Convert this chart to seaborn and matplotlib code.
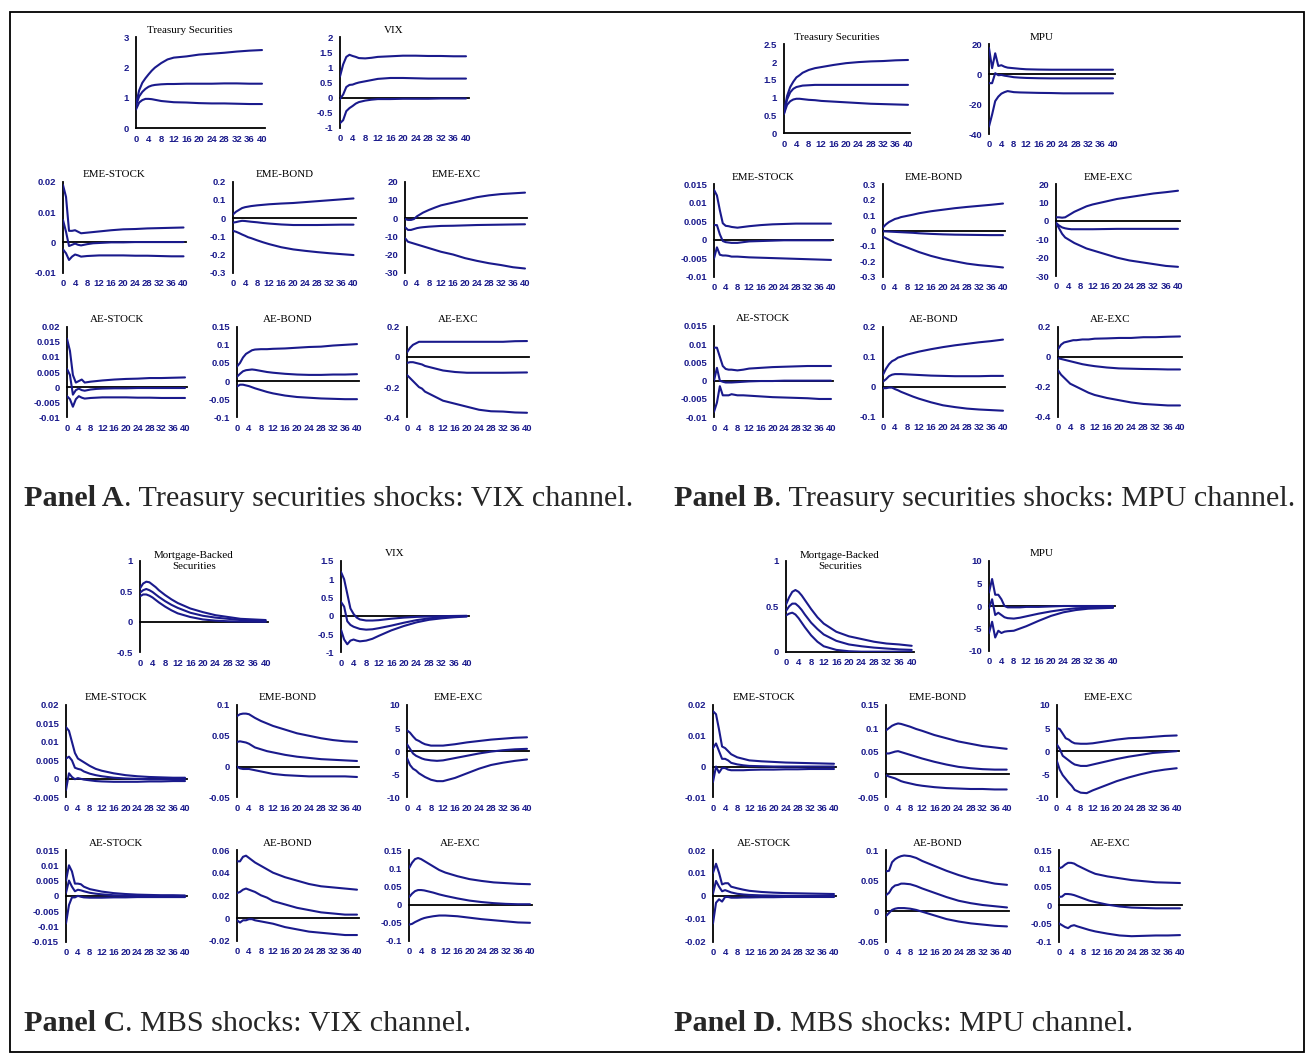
import matplotlib
matplotlib.use("Agg")
import matplotlib.pyplot as plt
import seaborn as sns
from matplotlib.patches import Rectangle

# ---------------------------------------------------------------------------
# Impulse-response data: upper band (HI), median (MED), lower band (LO)
# ---------------------------------------------------------------------------
HORIZON = [0, 1, 2, 3, 4, 5, 6, 8, 10, 12, 16, 20, 24, 28, 32, 36, 40]
XTICKS = [0, 4, 8, 12, 16, 20, 24, 28, 32, 36, 40]

# Panel A: Treasury securities shocks, VIX channel
A_TS_HI = [0.80, 1.25, 1.50, 1.65, 1.78, 1.90, 2.00, 2.15, 2.27, 2.33, 2.37, 2.43, 2.46, 2.49, 2.53, 2.56, 2.58]
A_TS_MED = [0.75, 1.05, 1.20, 1.30, 1.37, 1.41, 1.43, 1.45, 1.46, 1.46, 1.47, 1.47, 1.47, 1.48, 1.48, 1.47, 1.47]
A_TS_LO = [0.62, 0.85, 0.93, 0.97, 0.97, 0.96, 0.94, 0.90, 0.88, 0.86, 0.85, 0.83, 0.82, 0.82, 0.81, 0.80, 0.80]

A_VIX_HI = [0.70, 1.10, 1.35, 1.42, 1.38, 1.35, 1.31, 1.30, 1.32, 1.35, 1.37, 1.39, 1.39, 1.38, 1.38, 1.37, 1.37]
A_VIX_MED = [-0.05, 0.10, 0.35, 0.42, 0.43, 0.47, 0.50, 0.54, 0.58, 0.62, 0.65, 0.65, 0.64, 0.63, 0.63, 0.63, 0.63]
A_VIX_LO = [-0.85, -0.75, -0.45, -0.35, -0.28, -0.20, -0.15, -0.10, -0.07, -0.05, -0.05, -0.04, -0.04, -0.04, -0.03, -0.03, -0.03]

A_EME_STOCK_HI = [0.0189, 0.0150, 0.0038, 0.0038, 0.0040, 0.0035, 0.0030, 0.0032, 0.0034, 0.0036, 0.0040, 0.0043, 0.0044, 0.0046, 0.0047, 0.0048, 0.0049]
A_EME_STOCK_MED = [0.0074, 0.0035, -0.0012, -0.0008, -0.0004, -0.0008, -0.0010, -0.0006, -0.0003, -0.0002, 0.0000, 0.0000, 0.0001, 0.0001, 0.0001, 0.0001, 0.0001]
A_EME_STOCK_LO = [-0.0023, -0.0036, -0.0058, -0.0047, -0.0040, -0.0043, -0.0047, -0.0045, -0.0044, -0.0043, -0.0043, -0.0043, -0.0044, -0.0044, -0.0045, -0.0046, -0.0046]

A_EME_BOND_HI = [0.020, 0.035, 0.045, 0.055, 0.060, 0.063, 0.066, 0.070, 0.073, 0.076, 0.080, 0.083, 0.088, 0.093, 0.098, 0.103, 0.108]
A_EME_BOND_MED = [-0.025, -0.022, -0.018, -0.015, -0.016, -0.018, -0.020, -0.023, -0.027, -0.030, -0.035, -0.038, -0.038, -0.038, -0.037, -0.036, -0.036]
A_EME_BOND_LO = [-0.070, -0.075, -0.082, -0.090, -0.097, -0.105, -0.110, -0.122, -0.133, -0.143, -0.160, -0.172, -0.180, -0.187, -0.193, -0.198, -0.203]

A_EME_EXC_HI = [-0.5, -1.0, -1.0, -0.5, 1.0, 2.0, 3.0, 4.5, 5.8, 7.0, 8.5, 10.0, 11.5, 12.5, 13.2, 13.6, 14.0]
A_EME_EXC_MED = [-5.0, -6.5, -6.5, -6.0, -5.5, -5.2, -5.0, -4.7, -4.5, -4.3, -4.2, -4.0, -3.8, -3.7, -3.6, -3.5, -3.4]
A_EME_EXC_LO = [-11.0, -13.0, -13.5, -14.0, -14.5, -15.0, -15.5, -16.5, -17.5, -18.5, -20.0, -22.0, -23.5, -24.8, -25.8, -27.0, -27.7]

A_AE_STOCK_HI = [0.0160, 0.0120, 0.0040, 0.0015, 0.0020, 0.0025, 0.0015, 0.0018, 0.0020, 0.0022, 0.0025, 0.0027, 0.0028, 0.0030, 0.0030, 0.0031, 0.0032]
A_AE_STOCK_MED = [0.0060, 0.0040, -0.0025, -0.0010, -0.0005, -0.0010, -0.0012, -0.0008, -0.0006, -0.0005, -0.0004, -0.0004, -0.0003, -0.0003, -0.0003, -0.0003, -0.0003]
A_AE_STOCK_LO = [-0.0030, -0.0040, -0.0065, -0.0040, -0.0030, -0.0035, -0.0038, -0.0036, -0.0035, -0.0034, -0.0034, -0.0034, -0.0035, -0.0035, -0.0036, -0.0036, -0.0036]

A_AE_BOND_HI = [0.040, 0.050, 0.065, 0.075, 0.080, 0.085, 0.087, 0.088, 0.088, 0.089, 0.090, 0.092, 0.094, 0.095, 0.098, 0.100, 0.102]
A_AE_BOND_MED = [0.012, 0.020, 0.027, 0.030, 0.031, 0.032, 0.031, 0.028, 0.025, 0.023, 0.020, 0.018, 0.017, 0.017, 0.018, 0.018, 0.019]
A_AE_BOND_LO = [-0.015, -0.010, -0.010, -0.012, -0.014, -0.017, -0.020, -0.025, -0.030, -0.034, -0.040, -0.044, -0.046, -0.048, -0.049, -0.050, -0.050]

A_AE_EXC_HI = [0.03, 0.06, 0.08, 0.09, 0.10, 0.10, 0.10, 0.10, 0.10, 0.10, 0.10, 0.10, 0.10, 0.10, 0.10, 0.104, 0.105]
A_AE_EXC_MED = [-0.040, -0.035, -0.035, -0.040, -0.045, -0.050, -0.060, -0.070, -0.080, -0.090, -0.100, -0.105, -0.105, -0.105, -0.105, -0.104, -0.103]
A_AE_EXC_LO = [-0.12, -0.14, -0.16, -0.18, -0.20, -0.21, -0.23, -0.25, -0.27, -0.29, -0.31, -0.33, -0.35, -0.36, -0.362, -0.368, -0.37]

# Panel B: Treasury securities shocks, MPU channel
B_TS_HI = [0.60, 1.05, 1.30, 1.45, 1.57, 1.63, 1.70, 1.78, 1.83, 1.86, 1.92, 1.97, 2.00, 2.02, 2.03, 2.05, 2.06]
B_TS_MED = [0.55, 0.95, 1.15, 1.25, 1.30, 1.32, 1.34, 1.35, 1.36, 1.36, 1.36, 1.36, 1.36, 1.36, 1.36, 1.36, 1.36]
B_TS_LO = [0.55, 0.80, 0.90, 0.95, 0.97, 0.97, 0.96, 0.94, 0.93, 0.91, 0.89, 0.87, 0.85, 0.83, 0.82, 0.81, 0.80]

B_MPU_HI = [17.5, 4.0, 14.0, 5.5, 6.0, 5.0, 4.4, 4.0, 3.6, 3.3, 3.1, 3.0, 3.0, 3.0, 3.0, 3.0, 3.0]
B_MPU_MED = [-6.0, -6.0, 0.7, -0.7, -0.5, -1.0, -1.3, -2.0, -2.3, -2.5, -2.7, -2.8, -2.8, -2.8, -2.8, -2.8, -2.8]
B_MPU_LO = [-35.0, -27.0, -18.0, -15.0, -13.0, -12.0, -11.3, -12.0, -12.2, -12.3, -12.5, -12.6, -12.8, -12.8, -12.8, -12.8, -12.8]

B_EME_STOCK_HI = [0.0135, 0.0120, 0.0080, 0.0045, 0.0038, 0.0037, 0.0035, 0.0033, 0.0035, 0.0037, 0.0040, 0.0042, 0.0043, 0.0044, 0.0044, 0.0044, 0.0044]
B_EME_STOCK_MED = [0.0040, 0.0040, 0.0015, -0.0003, -0.0006, -0.0007, -0.0008, -0.0008, -0.0006, -0.0004, -0.0003, -0.0002, -0.0001, -0.0001, -0.0001, -0.0001, -0.0001]
B_EME_STOCK_LO = [-0.0050, -0.0020, -0.0040, -0.0042, -0.0042, -0.0043, -0.0045, -0.0045, -0.0046, -0.0047, -0.0048, -0.0049, -0.0050, -0.0051, -0.0052, -0.0053, -0.0054]

B_EME_BOND_HI = [0.020, 0.040, 0.055, 0.065, 0.075, 0.080, 0.087, 0.095, 0.103, 0.112, 0.125, 0.135, 0.145, 0.153, 0.160, 0.167, 0.175]
B_EME_BOND_MED = [-0.005, -0.006, -0.007, -0.008, -0.009, -0.010, -0.011, -0.013, -0.015, -0.018, -0.022, -0.025, -0.027, -0.028, -0.029, -0.030, -0.030]
B_EME_BOND_LO = [-0.040, -0.050, -0.060, -0.070, -0.080, -0.088, -0.095, -0.110, -0.125, -0.140, -0.165, -0.185, -0.200, -0.215, -0.225, -0.232, -0.240]

B_EME_EXC_HI = [2.0, 2.0, 1.8, 2.0, 3.0, 4.0, 5.0, 6.5, 8.0, 9.0, 10.5, 12.0, 13.0, 14.0, 15.0, 15.7, 16.5]
B_EME_EXC_MED = [-1.0, -2.5, -3.5, -4.0, -4.3, -4.5, -4.5, -4.5, -4.5, -4.5, -4.4, -4.3, -4.3, -4.3, -4.3, -4.3, -4.3]
B_EME_EXC_LO = [-1.0, -4.0, -7.0, -9.0, -10.0, -11.0, -12.0, -13.5, -15.0, -16.0, -18.0, -20.0, -21.5, -22.5, -23.5, -24.5, -25.0]

B_AE_STOCK_HI = [0.0090, 0.0090, 0.0065, 0.0040, 0.0032, 0.0030, 0.0030, 0.0028, 0.0030, 0.0033, 0.0035, 0.0037, 0.0038, 0.0039, 0.0040, 0.0040, 0.0040]
B_AE_STOCK_MED = [0.0000, 0.0035, 0.0000, -0.0003, -0.0005, -0.0005, -0.0005, -0.0004, -0.0003, -0.0002, -0.0001, -0.0001, 0.0000, 0.0000, 0.0000, 0.0000, 0.0000]
B_AE_STOCK_LO = [-0.0085, -0.0060, -0.0015, -0.0040, -0.0040, -0.0040, -0.0037, -0.0040, -0.0040, -0.0041, -0.0043, -0.0045, -0.0046, -0.0047, -0.0048, -0.0050, -0.0050]

B_AE_BOND_HI = [0.040, 0.060, 0.075, 0.085, 0.090, 0.097, 0.100, 0.107, 0.112, 0.117, 0.125, 0.132, 0.138, 0.143, 0.148, 0.152, 0.157]
B_AE_BOND_MED = [0.017, 0.025, 0.035, 0.040, 0.042, 0.042, 0.042, 0.041, 0.040, 0.039, 0.037, 0.036, 0.035, 0.035, 0.035, 0.036, 0.036]
B_AE_BOND_LO = [-0.005, -0.005, -0.003, -0.003, -0.008, -0.012, -0.017, -0.025, -0.033, -0.040, -0.052, -0.062, -0.068, -0.073, -0.076, -0.078, -0.080]

B_AE_EXC_HI = [0.050, 0.080, 0.095, 0.100, 0.105, 0.110, 0.110, 0.115, 0.115, 0.120, 0.122, 0.125, 0.125, 0.130, 0.130, 0.133, 0.135]
B_AE_EXC_MED = [-0.010, -0.015, -0.020, -0.025, -0.030, -0.035, -0.040, -0.050, -0.057, -0.063, -0.072, -0.078, -0.080, -0.082, -0.083, -0.085, -0.085]
B_AE_EXC_LO = [-0.090, -0.120, -0.140, -0.160, -0.180, -0.190, -0.200, -0.220, -0.240, -0.255, -0.275, -0.290, -0.305, -0.315, -0.320, -0.325, -0.325]

# Panel C: MBS shocks, VIX channel
C_MBS_HI = [0.55, 0.63, 0.66, 0.65, 0.61, 0.57, 0.52, 0.44, 0.37, 0.31, 0.22, 0.16, 0.11, 0.08, 0.05, 0.04, 0.03]
C_MBS_MED = [0.48, 0.52, 0.54, 0.52, 0.49, 0.45, 0.41, 0.34, 0.28, 0.23, 0.15, 0.10, 0.07, 0.05, 0.03, 0.02, 0.015]
C_MBS_LO = [0.42, 0.45, 0.45, 0.43, 0.40, 0.36, 0.32, 0.25, 0.19, 0.14, 0.08, 0.04, 0.02, 0.01, 0.005, 0.002, 0.0]

C_VIX_HI = [1.20, 1.00, 0.60, 0.20, 0.05, -0.05, -0.10, -0.13, -0.13, -0.12, -0.08, -0.05, -0.03, -0.02, -0.01, -0.005, 0.0]
C_VIX_MED = [0.38, 0.25, -0.15, -0.25, -0.30, -0.33, -0.36, -0.38, -0.37, -0.34, -0.27, -0.19, -0.12, -0.07, -0.04, -0.02, -0.01]
C_VIX_LO = [-0.38, -0.65, -0.78, -0.68, -0.65, -0.68, -0.70, -0.68, -0.63, -0.55, -0.40, -0.28, -0.18, -0.11, -0.07, -0.04, -0.02]

C_EME_STOCK_HI = [0.0140, 0.0130, 0.0100, 0.0070, 0.0055, 0.0050, 0.0045, 0.0035, 0.0027, 0.0022, 0.0015, 0.0010, 0.0007, 0.0005, 0.0004, 0.0003, 0.0003]
C_EME_STOCK_MED = [0.0055, 0.0060, 0.0050, 0.0030, 0.0027, 0.0025, 0.0020, 0.0014, 0.0010, 0.0007, 0.0003, 0.0001, 0.0000, -0.0001, -0.0001, -0.0001, -0.0001]
C_EME_STOCK_LO = [-0.0030, 0.0015, 0.0005, -0.0001, 0.0002, 0.0000, -0.0002, -0.0004, -0.0006, -0.0007, -0.0008, -0.0008, -0.0008, -0.0007, -0.0007, -0.0006, -0.0006]

C_EME_BOND_HI = [0.082, 0.085, 0.086, 0.086, 0.085, 0.082, 0.079, 0.074, 0.070, 0.066, 0.060, 0.054, 0.050, 0.046, 0.043, 0.041, 0.040]
C_EME_BOND_MED = [0.040, 0.041, 0.040, 0.039, 0.037, 0.034, 0.031, 0.028, 0.025, 0.023, 0.019, 0.016, 0.014, 0.012, 0.011, 0.010, 0.009]
C_EME_BOND_LO = [0.000, -0.003, -0.004, -0.004, -0.004, -0.005, -0.006, -0.008, -0.010, -0.012, -0.014, -0.015, -0.016, -0.016, -0.016, -0.016, -0.017]

C_EME_EXC_HI = [4.5, 4.0, 3.2, 2.5, 2.2, 1.8, 1.5, 1.2, 1.2, 1.2, 1.5, 1.9, 2.2, 2.5, 2.7, 2.9, 3.0]
C_EME_EXC_MED = [1.5, 0.5, -0.5, -1.0, -1.3, -1.6, -1.8, -2.0, -2.1, -2.0, -1.5, -1.0, -0.5, -0.1, 0.2, 0.4, 0.5]
C_EME_EXC_LO = [-1.5, -3.0, -3.8, -4.2, -4.8, -5.2, -5.6, -6.2, -6.5, -6.5, -5.8, -4.8, -3.8, -3.0, -2.5, -2.1, -1.8]

C_AE_STOCK_HI = [0.0050, 0.0100, 0.0080, 0.0040, 0.0040, 0.0038, 0.0030, 0.0022, 0.0018, 0.0014, 0.0009, 0.0006, 0.0004, 0.0003, 0.0002, 0.0002, 0.0001]
C_AE_STOCK_MED = [0.0010, 0.0050, 0.0030, 0.0015, 0.0020, 0.0018, 0.0015, 0.0010, 0.0007, 0.0005, 0.0002, 0.0001, 0.0000, 0.0000, 0.0000, 0.0000, 0.0000]
C_AE_STOCK_LO = [-0.0090, -0.0030, -0.0005, -0.0005, 0.0000, -0.0003, -0.0005, -0.0006, -0.0006, -0.0006, -0.0005, -0.0005, -0.0004, -0.0004, -0.0004, -0.0004, -0.0004]

C_AE_BOND_HI = [0.050, 0.050, 0.054, 0.055, 0.053, 0.051, 0.049, 0.046, 0.043, 0.040, 0.036, 0.033, 0.030, 0.028, 0.027, 0.026, 0.025]
C_AE_BOND_MED = [0.022, 0.023, 0.025, 0.026, 0.025, 0.024, 0.023, 0.020, 0.018, 0.015, 0.012, 0.009, 0.007, 0.005, 0.004, 0.003, 0.003]
C_AE_BOND_LO = [-0.002, -0.004, -0.002, -0.002, -0.001, -0.001, -0.002, -0.003, -0.004, -0.005, -0.008, -0.010, -0.012, -0.013, -0.014, -0.015, -0.015]

C_AE_EXC_HI = [0.100, 0.115, 0.125, 0.128, 0.125, 0.120, 0.115, 0.105, 0.095, 0.088, 0.078, 0.070, 0.065, 0.061, 0.059, 0.057, 0.056]
C_AE_EXC_MED = [0.020, 0.030, 0.037, 0.040, 0.040, 0.039, 0.037, 0.033, 0.028, 0.024, 0.017, 0.011, 0.007, 0.004, 0.002, 0.001, 0.001]
C_AE_EXC_LO = [-0.055, -0.053, -0.048, -0.044, -0.040, -0.037, -0.035, -0.032, -0.030, -0.030, -0.032, -0.036, -0.040, -0.043, -0.046, -0.049, -0.050]

# Panel D: MBS shocks, MPU channel
D_MBS_HI = [0.52, 0.60, 0.66, 0.68, 0.66, 0.62, 0.57, 0.47, 0.38, 0.31, 0.22, 0.17, 0.14, 0.11, 0.09, 0.08, 0.065]
D_MBS_MED = [0.45, 0.50, 0.53, 0.53, 0.50, 0.46, 0.41, 0.32, 0.25, 0.19, 0.12, 0.08, 0.06, 0.045, 0.035, 0.025, 0.02]
D_MBS_LO = [0.40, 0.42, 0.43, 0.41, 0.37, 0.32, 0.27, 0.18, 0.11, 0.06, 0.02, 0.005, 0.0, 0.0, 0.0, 0.0, 0.0]

D_MPU_HI = [3.0, 6.0, 2.5, 2.5, 1.5, 0.0, -0.3, -0.3, -0.3, -0.2, -0.2, -0.1, 0.0, 0.0, 0.0, 0.0, 0.0]
D_MPU_MED = [-0.5, 1.5, -2.0, -1.5, -2.0, -2.5, -2.7, -2.8, -2.6, -2.3, -1.7, -1.2, -0.8, -0.5, -0.4, -0.3, -0.3]
D_MPU_LO = [-6.0, -3.5, -7.0, -5.5, -6.0, -5.7, -5.6, -5.5, -5.0, -4.5, -3.3, -2.2, -1.4, -0.9, -0.6, -0.5, -0.4]

D_EME_STOCK_HI = [0.0180, 0.0170, 0.0120, 0.0065, 0.0060, 0.0050, 0.0040, 0.0030, 0.0025, 0.0020, 0.0017, 0.0015, 0.0013, 0.0012, 0.0011, 0.0010, 0.0009]
D_EME_STOCK_MED = [0.0060, 0.0075, 0.0050, 0.0025, 0.0025, 0.0020, 0.0012, 0.0007, 0.0004, 0.0002, 0.0001, 0.0000, 0.0000, 0.0000, 0.0000, 0.0000, 0.0000]
D_EME_STOCK_LO = [-0.0050, 0.0000, -0.0020, -0.0005, -0.0005, -0.0010, -0.0012, -0.0012, -0.0012, -0.0011, -0.0010, -0.0010, -0.0009, -0.0009, -0.0008, -0.0008, -0.0008]

D_EME_BOND_HI = [0.095, 0.100, 0.105, 0.108, 0.110, 0.109, 0.107, 0.103, 0.098, 0.094, 0.085, 0.078, 0.071, 0.066, 0.061, 0.058, 0.055]
D_EME_BOND_MED = [0.045, 0.045, 0.047, 0.049, 0.050, 0.048, 0.046, 0.042, 0.038, 0.034, 0.027, 0.021, 0.016, 0.013, 0.011, 0.010, 0.010]
D_EME_BOND_LO = [-0.002, -0.005, -0.007, -0.009, -0.012, -0.015, -0.017, -0.020, -0.023, -0.025, -0.028, -0.030, -0.031, -0.032, -0.032, -0.033, -0.033]

D_EME_EXC_HI = [5.0, 4.8, 3.8, 2.8, 2.5, 2.0, 1.7, 1.6, 1.6, 1.7, 2.1, 2.5, 2.8, 2.9, 3.1, 3.3, 3.4]
D_EME_EXC_MED = [1.5, 0.5, -1.0, -1.5, -2.0, -2.5, -2.9, -3.2, -3.2, -2.9, -2.3, -1.7, -1.2, -0.8, -0.4, -0.2, 0.0]
D_EME_EXC_LO = [-2.0, -4.0, -5.2, -6.0, -6.8, -7.5, -8.4, -9.0, -9.1, -8.5, -7.5, -6.5, -5.7, -5.0, -4.4, -4.0, -3.7]

D_AE_STOCK_HI = [0.0100, 0.0140, 0.0100, 0.0050, 0.0055, 0.0055, 0.0040, 0.0033, 0.0027, 0.0022, 0.0017, 0.0014, 0.0012, 0.0011, 0.0010, 0.0009, 0.0008]
D_AE_STOCK_MED = [0.0010, 0.0065, 0.0040, 0.0020, 0.0025, 0.0020, 0.0015, 0.0009, 0.0006, 0.0004, 0.0002, 0.0001, 0.0000, 0.0000, 0.0000, 0.0000, 0.0000]
D_AE_STOCK_LO = [-0.0120, -0.0030, -0.0015, -0.0025, -0.0005, -0.0005, -0.0008, -0.0008, -0.0007, -0.0007, -0.0006, -0.0006, -0.0005, -0.0005, -0.0005, -0.0005, -0.0005]

D_AE_BOND_HI = [0.065, 0.066, 0.080, 0.085, 0.088, 0.090, 0.091, 0.090, 0.087, 0.082, 0.074, 0.066, 0.059, 0.053, 0.049, 0.045, 0.043]
D_AE_BOND_MED = [0.026, 0.030, 0.038, 0.042, 0.043, 0.045, 0.045, 0.044, 0.041, 0.037, 0.030, 0.023, 0.017, 0.013, 0.010, 0.008, 0.006]
D_AE_BOND_LO = [-0.008, -0.003, 0.002, 0.004, 0.005, 0.005, 0.005, 0.004, 0.002, -0.001, -0.007, -0.013, -0.017, -0.020, -0.022, -0.024, -0.025]

D_AE_EXC_HI = [0.100, 0.103, 0.110, 0.115, 0.115, 0.113, 0.108, 0.100, 0.092, 0.085, 0.078, 0.073, 0.068, 0.065, 0.062, 0.061, 0.060]
D_AE_EXC_MED = [0.022, 0.023, 0.030, 0.030, 0.029, 0.027, 0.024, 0.018, 0.012, 0.008, 0.001, -0.004, -0.007, -0.008, -0.009, -0.009, -0.009]
D_AE_EXC_LO = [-0.050, -0.055, -0.060, -0.063, -0.057, -0.055, -0.058, -0.063, -0.068, -0.072, -0.078, -0.083, -0.085, -0.084, -0.083, -0.083, -0.082]

# Panel captions
CAPTIONS = [
    ("Panel A", ". Treasury securities shocks: VIX channel."),
    ("Panel B", ". Treasury securities shocks: MPU channel."),
    ("Panel C", ". MBS shocks: VIX channel."),
    ("Panel D", ". MBS shocks: MPU channel."),
]

# ---------------------------------------------------------------------------
# Layout: (x of h=0, x of h=40, top, bottom) in pixels, y ticks, title, series
# ---------------------------------------------------------------------------
PLOTS = [
    # Panel A
    ("Treasury Securities", (136, 262, 37.3, 128.3), [0, 1, 2, 3], (A_TS_HI, A_TS_MED, A_TS_LO)),
    ("VIX", (340, 466, 37.3, 127.7), [-1, -0.5, 0, 0.5, 1, 1.5, 2], (A_VIX_HI, A_VIX_MED, A_VIX_LO)),
    ("EME-STOCK", (63, 183.5, 181.7, 272.7), [-0.01, 0, 0.01, 0.02], (A_EME_STOCK_HI, A_EME_STOCK_MED, A_EME_STOCK_LO)),
    ("EME-BOND", (233, 353.5, 181.7, 272.7), [-0.3, -0.2, -0.1, 0, 0.1, 0.2], (A_EME_BOND_HI, A_EME_BOND_MED, A_EME_BOND_LO)),
    ("EME-EXC", (405, 525, 181.7, 272.7), [-30, -20, -10, 0, 10, 20], (A_EME_EXC_HI, A_EME_EXC_MED, A_EME_EXC_LO)),
    ("AE-STOCK", (67, 185, 326.7, 417.3), [-0.01, -0.005, 0, 0.005, 0.01, 0.015, 0.02], (A_AE_STOCK_HI, A_AE_STOCK_MED, A_AE_STOCK_LO)),
    ("AE-BOND", (237, 357, 326.7, 417.3), [-0.1, -0.05, 0, 0.05, 0.1, 0.15], (A_AE_BOND_HI, A_AE_BOND_MED, A_AE_BOND_LO)),
    ("AE-EXC", (407, 527, 326.7, 417.3), [-0.4, -0.2, 0, 0.2], (A_AE_EXC_HI, A_AE_EXC_MED, A_AE_EXC_LO)),
    # Panel B
    ("Treasury Securities", (784, 908, 44.3, 133.3), [0, 0.5, 1, 1.5, 2, 2.5], (B_TS_HI, B_TS_MED, B_TS_LO)),
    ("MPU", (989, 1113, 44.3, 134), [-40, -20, 0, 20], (B_MPU_HI, B_MPU_MED, B_MPU_LO)),
    ("EME-STOCK", (714, 831, 184.3, 277), [-0.01, -0.005, 0, 0.005, 0.01, 0.015], (B_EME_STOCK_HI, B_EME_STOCK_MED, B_EME_STOCK_LO)),
    ("EME-BOND", (883, 1003, 184.3, 276.7), [-0.3, -0.2, -0.1, 0, 0.1, 0.2, 0.3], (B_EME_BOND_HI, B_EME_BOND_MED, B_EME_BOND_LO)),
    ("EME-EXC", (1056, 1178, 184.3, 276), [-30, -20, -10, 0, 10, 20], (B_EME_EXC_HI, B_EME_EXC_MED, B_EME_EXC_LO)),
    ("AE-STOCK", (714, 831, 325.7, 417.3), [-0.01, -0.005, 0, 0.005, 0.01, 0.015], (B_AE_STOCK_HI, B_AE_STOCK_MED, B_AE_STOCK_LO)),
    ("AE-BOND", (883, 1003, 326.7, 416.7), [-0.1, 0, 0.1, 0.2], (B_AE_BOND_HI, B_AE_BOND_MED, B_AE_BOND_LO)),
    ("AE-EXC", (1058, 1180, 326.7, 416.7), [-0.4, -0.2, 0, 0.2], (B_AE_EXC_HI, B_AE_EXC_MED, B_AE_EXC_LO)),
    # Panel C
    ("Mortgage-Backed\nSecurities", (140, 265.7, 561, 652.3), [-0.5, 0, 0.5, 1], (C_MBS_HI, C_MBS_MED, C_MBS_LO)),
    ("VIX", (341, 466.7, 561, 652.3), [-1, -0.5, 0, 0.5, 1, 1.5], (C_VIX_HI, C_VIX_MED, C_VIX_LO)),
    ("EME-STOCK", (66, 185, 705, 797.3), [-0.005, 0, 0.005, 0.01, 0.015, 0.02], (C_EME_STOCK_HI, C_EME_STOCK_MED, C_EME_STOCK_LO)),
    ("EME-BOND", (237, 357, 705, 797.3), [-0.05, 0, 0.05, 0.1], (C_EME_BOND_HI, C_EME_BOND_MED, C_EME_BOND_LO)),
    ("EME-EXC", (407, 527, 705, 797.3), [-10, -5, 0, 5, 10], (C_EME_EXC_HI, C_EME_EXC_MED, C_EME_EXC_LO)),
    ("AE-STOCK", (66, 185, 850, 941.7), [-0.015, -0.01, -0.005, 0, 0.005, 0.01, 0.015], (C_AE_STOCK_HI, C_AE_STOCK_MED, C_AE_STOCK_LO)),
    ("AE-BOND", (237, 357, 850, 940.7), [-0.02, 0, 0.02, 0.04, 0.06], (C_AE_BOND_HI, C_AE_BOND_MED, C_AE_BOND_LO)),
    ("AE-EXC", (409, 530, 850, 941), [-0.1, -0.05, 0, 0.05, 0.1, 0.15], (C_AE_EXC_HI, C_AE_EXC_MED, C_AE_EXC_LO)),
    # Panel D
    ("Mortgage-Backed\nSecurities", (786, 911.7, 561, 651.7), [0, 0.5, 1], (D_MBS_HI, D_MBS_MED, D_MBS_LO)),
    ("MPU", (989, 1113, 561, 651), [-10, -5, 0, 5, 10], (D_MPU_HI, D_MPU_MED, D_MPU_LO)),
    ("EME-STOCK", (713, 834, 705, 797.3), [-0.01, 0, 0.01, 0.02], (D_EME_STOCK_HI, D_EME_STOCK_MED, D_EME_STOCK_LO)),
    ("EME-BOND", (886, 1006.7, 705, 797.3), [-0.05, 0, 0.05, 0.1, 0.15], (D_EME_BOND_HI, D_EME_BOND_MED, D_EME_BOND_LO)),
    ("EME-EXC", (1056.7, 1176.7, 705, 797.3), [-10, -5, 0, 5, 10], (D_EME_EXC_HI, D_EME_EXC_MED, D_EME_EXC_LO)),
    ("AE-STOCK", (713, 834, 850, 941.7), [-0.02, -0.01, 0, 0.01, 0.02], (D_AE_STOCK_HI, D_AE_STOCK_MED, D_AE_STOCK_LO)),
    ("AE-BOND", (886, 1007, 850, 941.7), [-0.05, 0, 0.05, 0.1], (D_AE_BOND_HI, D_AE_BOND_MED, D_AE_BOND_LO)),
    ("AE-EXC", (1059, 1180, 850, 941.7), [-0.1, -0.05, 0, 0.05, 0.1, 0.15], (D_AE_EXC_HI, D_AE_EXC_MED, D_AE_EXC_LO)),
]

CAPTION_POS = [(24, 506), (674, 506), (24, 1031), (674, 1031)]

# ---------------------------------------------------------------------------
W, H = 1309, 1054
NAVY = "#1a1a8c"
XMAX = 40.8
SERIF = ["Liberation Serif", "DejaVu Serif"]

sns.set_style("white")
plt.rcParams["font.family"] = ["Liberation Sans", "DejaVu Sans"]

fig = plt.figure(figsize=(W / 100, H / 100), dpi=100)
fig.patch.set_facecolor("white")

# Background canvas in pixel coordinates for frame, titles and captions
bg = fig.add_axes([0, 0, 1, 1])
bg.set_xlim(0, W)
bg.set_ylim(H, 0)
bg.axis("off")
bg.add_patch(Rectangle((10, 12), 1294, 1040, fill=False, lw=1.3, ec="black"))


def fmt(v):
    return "0" if v == 0 else "{:g}".format(v)


for title, (x0, x40, ytop, ybot), yticks, series in PLOTS:
    width_px = (x40 - x0) * XMAX / 40.0
    ax = fig.add_axes([x0 / W, 1 - ybot / H, width_px / W, (ybot - ytop) / H])
    ax.patch.set_alpha(0)
    for vals in series:
        sns.lineplot(x=HORIZON, y=vals, ax=ax, color=NAVY, lw=1.5, zorder=3)
    ax.set_xlim(0, XMAX)
    ax.set_ylim(min(yticks), max(yticks))
    ax.set_xlabel("")
    ax.set_ylabel("")

    for side in ("top", "right"):
        ax.spines[side].set_visible(False)
    ax.spines["left"].set_color("black")
    ax.spines["left"].set_linewidth(1.3)
    # zero line carries the horizon tick marks
    ax.spines["bottom"].set_position(("data", 0))
    ax.spines["bottom"].set_color("black")
    ax.spines["bottom"].set_linewidth(1.3)
    ax.set_xticks(XTICKS[1:])
    ax.tick_params(axis="x", direction="out", length=3, width=1.1,
                   color="black", labelbottom=False)

    ax.set_yticks(yticks, labels=[fmt(v) for v in yticks],
                  fontsize=6.8, fontweight="bold", color=NAVY)
    ax.tick_params(axis="y", direction="out", length=2.5, width=1.0,
                   color="black", pad=2.5)

    # horizon labels along the bottom edge
    sec = ax.secondary_xaxis("bottom")
    for sp in sec.spines.values():
        sp.set_visible(False)
    sec.set_xticks(XTICKS, labels=[str(t) for t in XTICKS],
                   fontsize=6.8, fontweight="bold", color=NAVY)
    sec.tick_params(axis="x", length=0, pad=4.5)

    cx = (x0 + x40) / 2 - 9
    ty = ytop if "\n" in title else ytop - 7
    bg.text(cx, ty, title, ha="center", va="center", fontsize=7.9,
            family=SERIF, color="black", linespacing=1.25)

for (bold, rest), (cx, cy) in zip(CAPTIONS, CAPTION_POS):
    t = bg.text(cx, cy, bold, ha="left", va="baseline", fontsize=21.7,
                fontweight="bold", family=SERIF)
    bg.annotate(rest, xy=(1, 0), xycoords=t, ha="left", va="bottom",
                fontsize=21.7, family=SERIF)

fig.savefig("out.png", dpi=100, facecolor="white")
